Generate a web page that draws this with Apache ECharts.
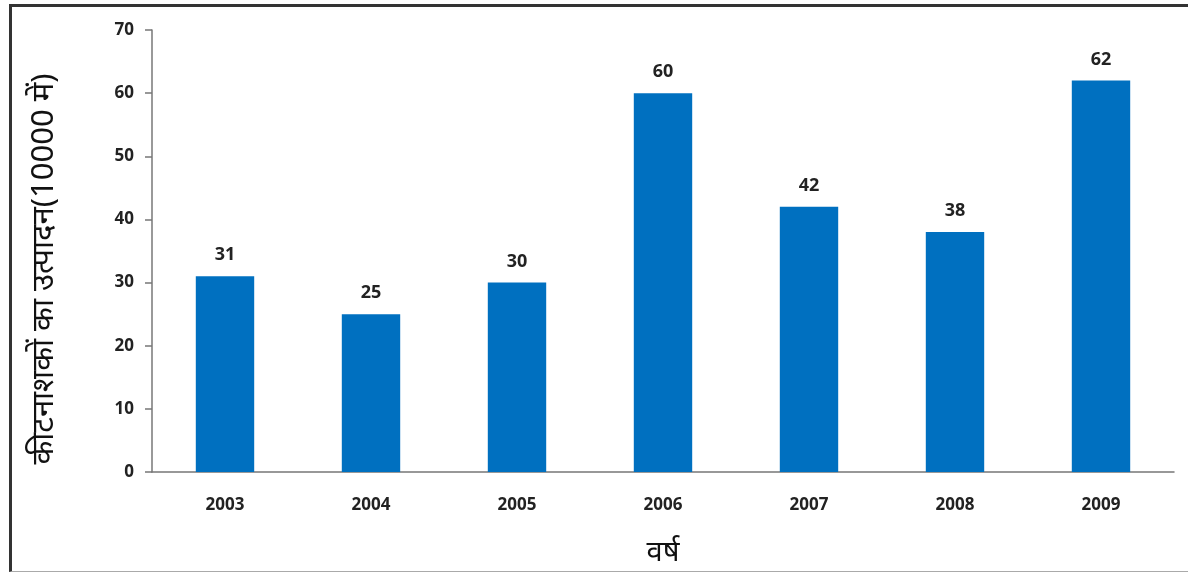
<!DOCTYPE html>
<html>
<head>
<meta charset="utf-8">
<script src="https://cdn.jsdelivr.net/npm/echarts@6/dist/echarts.min.js"></script>
<style>
  html, body { margin: 0; padding: 0; background: #fff; }
  #frame {
    position: absolute; left: 9px; top: 4px; width: 1190px; height: 564px;
    border-left: 3px solid #333; border-top: 3px solid #333; border-bottom: 1px solid #aaa;
  }
  #chart { position: absolute; left: 0; top: 0; width: 1188px; height: 572px; }
</style>
</head>
<body>
<div id="frame"></div>
<div id="chart"></div>
<script>
// data
const years = ["2003", "2004", "2005", "2006", "2007", "2008", "2009"];
const production = [31, 25, 30, 60, 42, 38, 62];
const yAxisName = "कीटनाशकों का उत्पादन(10000 में)";
const xAxisName = "वर्ष";

const chart = echarts.init(document.getElementById("chart"));

const labelFont = {
  fontFamily: "Open Sans, Noto Sans, sans-serif",
  fontWeight: "bold",
  fontSize: 17,
  color: "#222",
};

chart.setOption({
  animation: false,
  grid: { left: 152, right: 14, top: 30, bottom: 100, containLabel: false },
  xAxis: {
    type: "category",
    data: years,
    name: xAxisName,
    nameLocation: "middle",
    nameGap: 66,
    nameTextStyle: { fontSize: 29, color: "#111", fontFamily: "Noto Sans, sans-serif" },
    axisTick: { show: false },
    axisLine: { lineStyle: { color: "#777", width: 1.5 } },
    axisLabel: Object.assign({ margin: 25 }, labelFont),
  },
  yAxis: {
    type: "value",
    min: 0,
    max: 70,
    interval: 10,
    name: yAxisName,
    nameLocation: "middle",
    nameGap: 92,
    nameRotate: 90,
    // right padding nudges the rotated title a little lower, like the original
    nameTextStyle: { fontSize: 31, color: "#111", fontFamily: "Noto Sans, sans-serif", padding: [0, 36, 0, 0] },
    axisLine: { show: true, lineStyle: { color: "#777", width: 1.5 } },
    axisTick: { show: true, length: 7, lineStyle: { color: "#777", width: 1.5 } },
    splitLine: { show: false },
    axisLabel: Object.assign({ margin: 18 }, labelFont),
  },
  series: [
    {
      type: "bar",
      data: production,
      barWidth: "40%",
      itemStyle: { color: "#0070C0" },
      label: {
        show: true,
        position: "top",
        distance: 12,
        fontFamily: "Open Sans, Noto Sans, sans-serif",
        fontWeight: "bold",
        fontSize: 18,
        color: "#222",
      },
    },
  ],
});
</script>
</body>
</html>
